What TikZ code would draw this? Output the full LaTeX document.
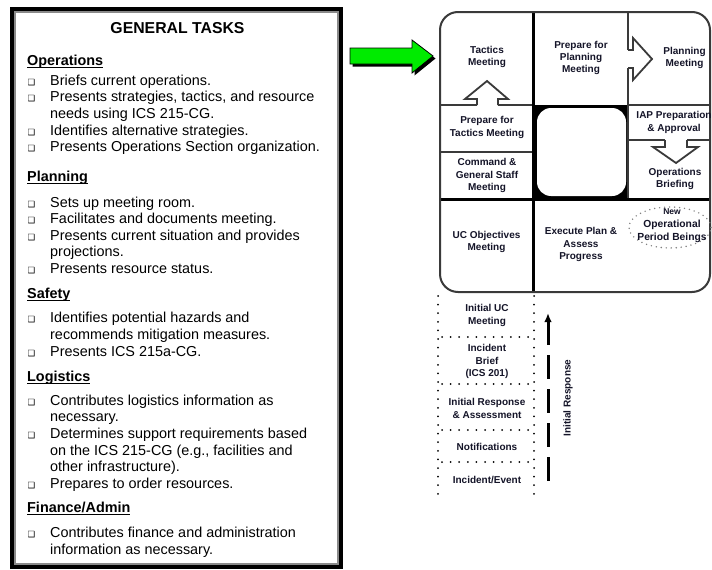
\documentclass[tikz,border=0pt]{standalone}
\usepackage{fontspec}
\setmainfont{Liberation Sans}
\newfontfamily\symfont{DejaVu Sans}
\usetikzlibrary{arrows.meta}

\definecolor{ink}{HTML}{141428}
\definecolor{gridgray}{HTML}{3A3A3A}
\definecolor{framegray}{HTML}{8A8A8A}
\definecolor{arrowgreen}{RGB}{0,235,0}

% underlined section heading
\newsavebox\hdbox
\newcommand\headline[1]{\sbox\hdbox{#1}\rlap{\rule[-3.2pt]{\wd\hdbox}{1.1pt}}\usebox\hdbox}

\tikzset{
  tasktext/.style={anchor=base west, inner sep=0pt, font=\fontsize{14.4}{16}\selectfont},
  taskhead/.style={anchor=base west, inner sep=0pt, font=\bfseries\fontsize{14.4}{16}\selectfont},
  taskbullet/.style={anchor=base, inner sep=0pt, font=\symfont\fontsize{8.5}{9}\selectfont},
  celltext/.style={align=center, inner sep=0pt, text=ink, font=\bfseries\fontsize{10}{12.2}\selectfont},
  gridline/.style={draw=gridgray, line width=1.8pt},
  heavyline/.style={draw=black, line width=3pt},
  dotline/.style={draw=black, line width=2pt, line cap=round, dash pattern=on 0pt off 8.6pt},
}

\begin{document}
\begin{tikzpicture}[x=1pt,y=-1pt]
\useasboundingbox (0,0) rectangle (712,570);
\fill[white] (0,0) rectangle (712,570);

% ---------- task list frame ----------
\draw[black, line width=4pt] (12,9) rectangle (341,567);
\draw[framegray, line width=2.2pt] (15.3,12.2) rectangle (337.7,563.6);

\node[anchor=base, inner sep=0pt, font=\bfseries\fontsize{15.8}{18}\selectfont] (title) at (177.5,33.5) {GENERAL TASKS};

\node[taskhead] (hOps) at (27,65) {\headline{Operations}};
\node[taskhead] (hPlan) at (27,181) {\headline{Planning}};
\node[taskhead] (hSafe) at (27,298) {\headline{Safety}};
\node[taskhead] (hLog) at (27,381) {\headline{Logistics}};
\node[taskhead] (hFin) at (27,512) {\headline{Finance/Admin}};

\foreach \yy [count=\i] in {85,101.7,135,151.3,207,223.3,240,273,322,356,405,438,488,537}
  \node[taskbullet] (bul\i) at (31.5,\yy) {❑};

\foreach \yy/\tx [count=\i] in {
  85/{Briefs current operations.},
  101.7/{Presents strategies, tactics, and resource},
  118.3/{needs using ICS 215-CG.},
  135/{Identifies alternative strategies.},
  151.3/{Presents Operations Section organization.},
  207/{Sets up meeting room.},
  223.3/{Facilitates and documents meeting.},
  240/{Presents current situation and provides},
  256.3/{projections.},
  273/{Presents resource status.},
  322/{Identifies potential hazards and},
  339/{recommends mitigation measures.},
  356/{Presents ICS 215a-CG.},
  405/{Contributes logistics information as},
  421.5/{necessary.},
  438/{Determines support requirements based},
  455/{on the ICS 215-CG (e.g., facilities and},
  471/{other infrastructure).},
  488/{Prepares to order resources.},
  537/{Contributes finance and administration},
  554/{information as necessary.}}
  \node[tasktext] (task\i) at (50,\yy) {\tx};

% ---------- green pointer ----------
\fill[black] (352.5,50.5) -- (414.5,50.5) -- (414.5,42.5) -- (435.5,58.5) -- (414.5,75.5) -- (414.5,66.5) -- (352.5,66.5) -- cycle;
\draw[fill=arrowgreen, draw=black, line width=0.8pt] (350,48) -- (412,48) -- (412,40) -- (433,56) -- (412,73) -- (412,64) -- (350,64) -- cycle;

% ---------- planning cycle ----------
% centre block
\fill[black] (533,105) rectangle (629,199);
\fill[white, rounded corners=14pt] (537,108) rectangle (626,196);

% cell dividers (with openings for the hollow arrows)
\draw[gridline] (440,105) -- (477,105);
\draw[gridline] (498,105) -- (533,105);
\draw[gridline] (628,105) -- (710,105);
\draw[gridline] (440,152) -- (533,152);
\draw[gridline] (628,12) -- (628,50);
\draw[gridline] (628,68) -- (628,199);
\draw[gridline] (628,140) -- (665,140);
\draw[gridline] (687,140) -- (710,140);

% hollow arrows
\draw[gridline, line join=miter] (477,105) -- (477,99) -- (465,99) -- (487,81) -- (508,99) -- (498,99) -- (498,105);
\draw[gridline, line join=miter] (628,50) -- (633,50) -- (633,38) -- (652,59) -- (633,80) -- (633,68) -- (628,68);
\draw[gridline, line join=miter] (665,140) -- (665,147) -- (653,147) -- (676,163) -- (698,147) -- (687,147) -- (687,140);

% heavy dividers
\draw[heavyline] (533,12) -- (533,292);
\draw[heavyline] (440,199) -- (710,199);

% outer frame
\draw[draw=gridgray, line width=2pt, rounded corners=18pt] (440,12) rectangle (710,292);

% dotted marker round the new period
\draw[gray, line width=1.6pt, line cap=round, dash pattern=on 0pt off 5pt] (670,227.5) ellipse [x radius=41pt, y radius=20.5pt];

\node[celltext] (tactics) at (487,57) {Tactics\\Meeting};
\node[celltext] (prepplan) at (581,58) {Prepare for\\Planning\\Meeting};
\node[celltext] (planmeet) at (684.5,58) {Planning\\Meeting};
\node[celltext] (preptac) at (487,127.5) {Prepare for\\Tactics Meeting};
\node[celltext] (iap) at (674,122.5) {IAP Preparation\\\& Approval};
\node[celltext] (cgs) at (487,175.5) {Command \&\\General Staff\\Meeting};
\node[celltext] (opsbrief) at (675,179) {Operations\\Briefing};
\node[celltext] (ucobj) at (486.5,242) {UC Objectives\\Meeting};
\node[celltext] (execute) at (581,244.5) {Execute Plan \&\\Assess\\Progress};
\node[celltext, font=\bfseries\fontsize{10.3}{13}\selectfont] (newop) at (672,226) {{\fontsize{8.5}{10}\selectfont New}\\Operational\\Period Beings};

% ---------- initial response column ----------
\draw[dotline] (438,296) -- (438,498);
\draw[dotline] (534,296) -- (534,498);
\foreach \yy in {337,384,430,462}
  \draw[dotline] (442,\yy) -- (532,\yy);

\node[celltext] (initUC) at (487,315.5) {Initial UC\\Meeting};
\node[celltext] (brief) at (487,361.5) {Incident\\Brief\\(ICS 201)};
\node[celltext] (initresp) at (487,408.5) {Initial Response\\\& Assessment};
\node[celltext] (notif) at (487,447) {Notifications};
\node[celltext] (event) at (487,480) {Incident/Event};

\coordinate (irtop) at (548,313);
\coordinate (irbot) at (548,489);
\draw[{Latex[length=9pt,width=7.5pt]}-, black, line width=3pt, dash pattern=on 24pt off 10pt] (irtop) -- (irbot);
\node[celltext, rotate=90] (irlabel) at (568,398) {Initial Response};

\end{tikzpicture}
\end{document}
